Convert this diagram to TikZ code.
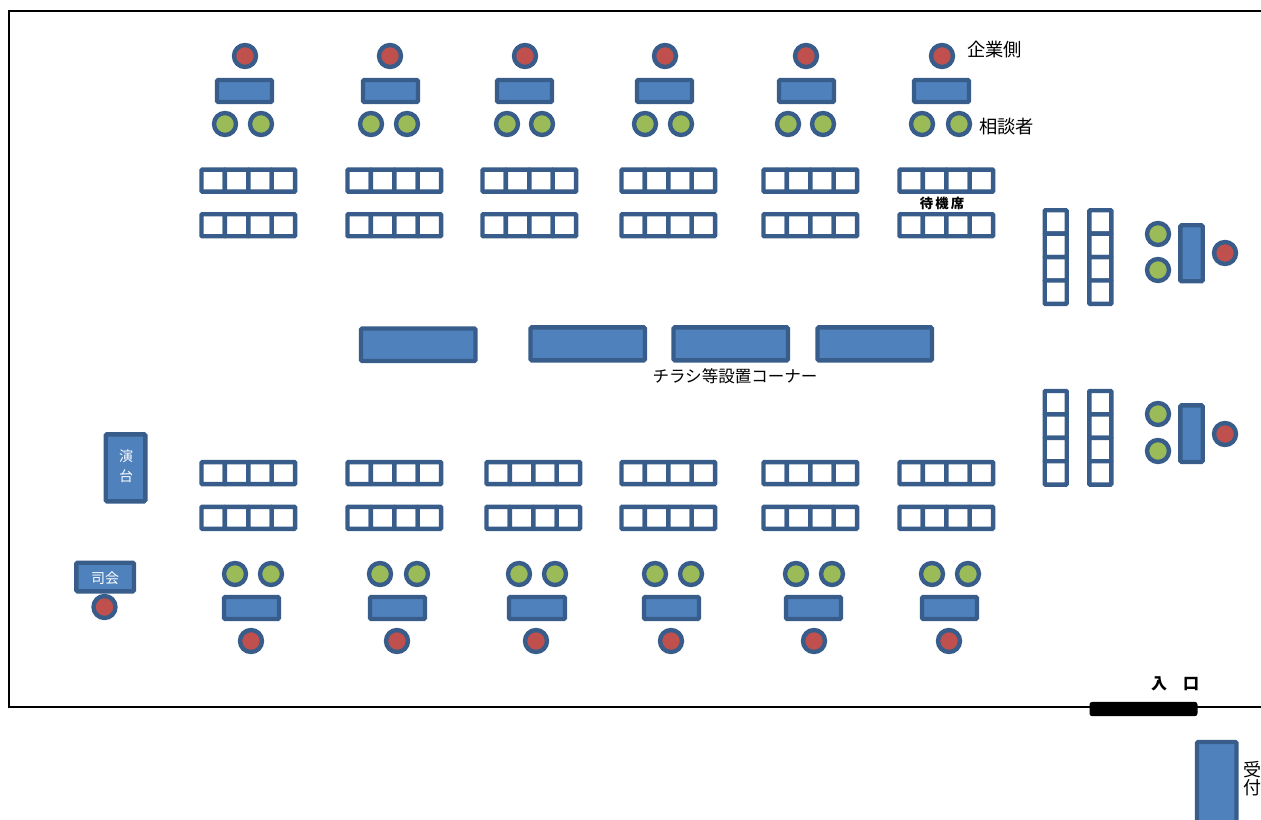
\documentclass[tikz,border=0pt]{standalone}
\usepackage{fontspec}
\newfontfamily\cjk{Noto Sans CJK JP}
\definecolor{tblfill}{HTML}{4F81BD}
\definecolor{tblline}{HTML}{385D8A}
\definecolor{redseat}{HTML}{C0504D}
\definecolor{greenseat}{HTML}{9BBB59}
\tikzset{
  objbase/.style={draw=tblline,line width=3.3pt,inner sep=0pt,outer sep=0pt},
  tablebox/.style={objbase,rectangle,rounded corners=1pt,fill=tblfill},
  seatcell/.style={objbase,rectangle,rounded corners=.6pt,fill=white,minimum width=17.55pt,minimum height=16.5pt},
  seatcellv/.style={objbase,rectangle,rounded corners=.6pt,fill=white,minimum width=16.5pt,minimum height=17.55pt},
  staff/.style={objbase,circle,fill=redseat,minimum size=16.5pt},
  guest/.style={objbase,circle,fill=greenseat,minimum size=16.5pt},
  door/.style={rectangle,rounded corners=2pt,fill=black,inner sep=0pt,outer sep=0pt},
  lbl/.style={inner sep=0pt,outer sep=0pt,text=black,font=\cjk\fontsize{13.7pt}{14pt}\selectfont},
  lblw/.style={inner sep=0pt,outer sep=0pt,text=white,align=center,font=\cjk\fontsize{10.5pt}{15pt}\selectfont},
  wall/.style={draw=black,line width=1.8pt,line join=miter}
}
% table given by its outer edges in pixels
\newcommand{\tbl}[5]{\node[tablebox,minimum width={(#4-#2-4)*0.75pt},minimum height={(#5-#3-4)*0.75pt}] (#1) at ({(#2+#4)/2},{(#3+#5)/2}) {};}
% a row of four seats from outer left x and outer top y
\newcommand{\seatsH}[3]{%
  \foreach \k in {0,1,2,3} {\node[seatcell] (#1c\k) at ({#2+1.5+11.7+23.4*\k},{#3+12.6}) {};}}
\newcommand{\seatsV}[3]{%
  \foreach \k in {0,1,2,3} {\node[seatcellv] (#1c\k) at ({#2+12},{#3+2+11.7+23.4*\k}) {};}}
\begin{document}
\begin{tikzpicture}[x=0.75pt,y=-0.75pt]
\useasboundingbox (0,0) rectangle (1261,820);
\clip (0,0) rectangle (1261,820);
\coordinate (wallTR) at (1270,11);
\coordinate (wallTL) at (9,11);
\coordinate (wallBL) at (9,707);
\coordinate (wallBR) at (1270,707);
\draw[wall] (wallTR) -- (wallTL) -- (wallBL) -- (wallBR);

% top booths
\foreach \n/\r/\ga/\gb/\tl in {1/245/225/261/215,2/390/371/407/361,3/525/507/542/495,4/665/645/681/635,5/806/788/823/777,6/942/922/959/912} {
  \node[staff] (ts\n) at (\r,56) {};
  \tbl{tt\n}{\tl-0.5}{78}{\tl+59.5}{104}
  \node[guest] (tga\n) at (\ga,124) {};
  \node[guest] (tgb\n) at (\gb,124) {};
}
% top waiting rows
\foreach \n/\x in {1/200,2/346,3/481,4/620,5/762,6/898} {
  \seatsH{tra\n}{\x}{168}
  \seatsH{trb\n}{\x}{212.7}
}
% bottom waiting rows
\foreach \n/\x in {1/200,2/346,3/485,4/620,5/762,6/898} {
  \seatsH{bra\n}{\x}{460.5}
  \seatsH{brb\n}{\x}{505.2}
}
% bottom booths
\foreach \n/\r/\ga/\gb/\tl/\tw in {1/251/235/271/222/60,2/397/380/417/368/60,3/536/519/555/507/61,4/671/655/691/642/60,5/814/796/832/784/60,6/949/932/968/920/60} {
  \node[guest] (bga\n) at (\ga,574) {};
  \node[guest] (bgb\n) at (\gb,574) {};
  \tbl{bt\n}{\tl-0.5}{595}{\tl+\tw-0.5}{621}
  \node[staff] (bs\n) at (\r,641) {};
}
% flyer corner
\tbl{fa}{359}{326.5}{477.5}{363}
\tbl{fb}{528.5}{325.3}{647}{362.3}
\tbl{fc}{671.5}{325.3}{790}{362.3}
\tbl{fd}{815.5}{325.3}{934}{362.3}
\node[lbl,font=\cjk\fontsize{12.4pt}{14pt}\selectfont] (flyerlabel) at (735,376) {チラシ等設置コーナー};

% right side seats and booths
\seatsV{va}{1043.7}{208.3}
\seatsV{vb}{1088.3}{208.3}
\seatsV{vc}{1043.7}{389}
\seatsV{vd}{1088.3}{389}
\node[guest] (rga) at (1158,234) {};
\node[guest] (rgb) at (1158,270) {};
\tbl{rt}{1178.3}{223.3}{1204.7}{283.3}
\node[staff] (rs) at (1225,253) {};
\node[guest] (sga) at (1158,414) {};
\node[guest] (sgb) at (1158,451) {};
\tbl{st}{1178.3}{403.3}{1204.7}{464}
\node[staff] (ss) at (1225,434) {};

% stage and MC
\tbl{stage}{103.7}{432.3}{147.3}{503.3}
\node[lblw] (stagelabel) at (126,466) {演\\台};
\tbl{mc}{74.3}{560.7}{136}{593.3}
\node[lblw] (mclabel) at (105,578) {司会};
\node[staff] (mcs) at (104.5,607) {};

% labels
\node[lbl,anchor=west] (kigyo) at (967,50) {企業側};
\node[lbl,anchor=west] (sodan) at (979,127) {相談者};
\node[lbl,font=\cjk\bfseries\fontsize{10pt}{11pt}\selectfont] (taiki) at (942,203) {待\,機\,席};

% entrance
\node[door,minimum width=81pt,minimum height=10.7pt] (entrance) at (1143.5,709) {};
\node[lbl,font=\cjk\bfseries\fontsize{12pt}{13pt}\selectfont] (entrancelabel) at (1175,684) {入　口};

% reception
\tbl{reception}{1195}{740}{1238.5}{860}
\node[lbl,anchor=north west,align=left,font=\cjk\fontsize{13.5pt}{13.5pt}\selectfont] (receptionlabel) at (1243,761) {受\\付};
\end{tikzpicture}
\end{document}
